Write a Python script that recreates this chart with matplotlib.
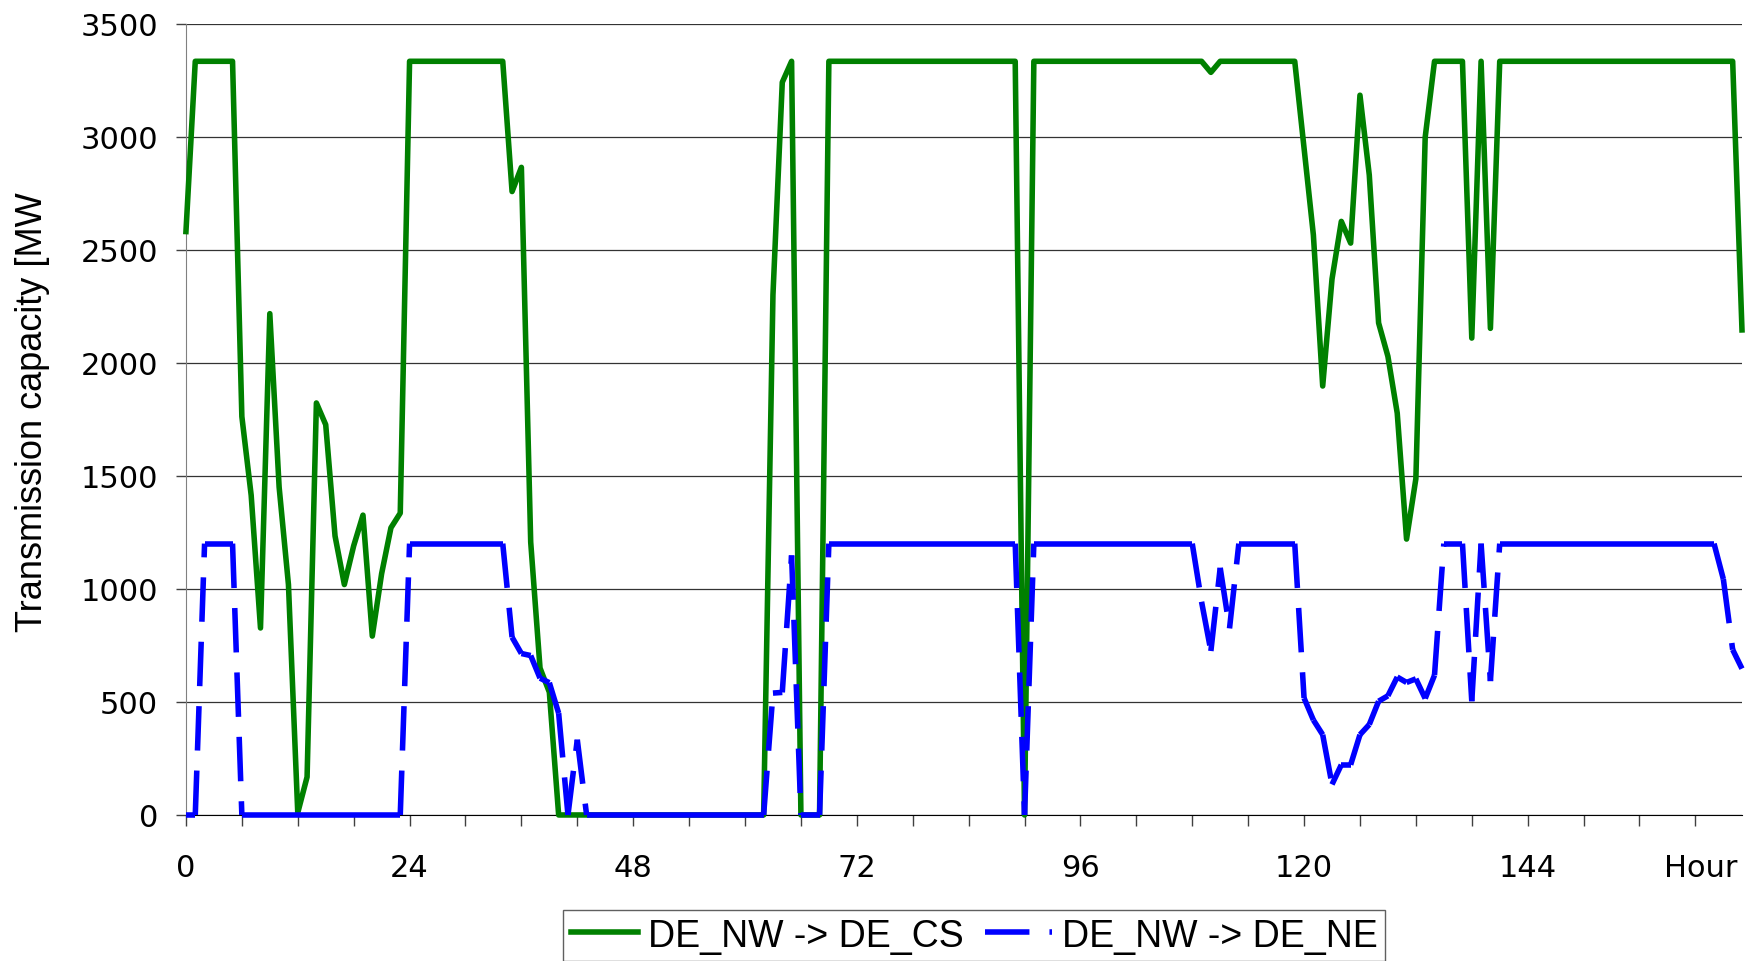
import matplotlib
matplotlib.use('Agg')
import matplotlib.pyplot as plt
from matplotlib.collections import LineCollection
from matplotlib.lines import Line2D

# hourly values, one row per day
hours = list(range(168))
de_cs = [
    2580, 3333, 3333, 3333, 3333, 3333, 1762, 1414, 827, 2217, 1450, 1019, 10, 168, 1822, 1726, 1234, 1019, 1190, 1326, 791, 1067, 1270, 1335,
    3333, 3333, 3333, 3333, 3333, 3333, 3333, 3333, 3333, 3333, 3333, 2757, 2864, 1207, 650, 543, 0, 0, 0, 0, 0, 0, 0, 0,
    0, 0, 0, 0, 0, 0, 0, 0, 0, 0, 0, 0, 0, 0, 0, 2300, 3240, 3333, 0, 0, 0, 3333, 3333, 3333,
    3333, 3333, 3333, 3333, 3333, 3333, 3333, 3333, 3333, 3333, 3333, 3333, 3333, 3333, 3333, 3333, 3333, 3333, 0, 3333, 3333, 3333, 3333, 3333,
    3333, 3333, 3333, 3333, 3333, 3333, 3333, 3333, 3333, 3333, 3333, 3333, 3333, 3333, 3284, 3333, 3333, 3333, 3333, 3333, 3333, 3333, 3333, 3333,
    2950, 2565, 1897, 2370, 2625, 2529, 3183, 2830, 2176, 2028, 1777, 1220, 1487, 2997, 3333, 3333, 3333, 3333, 2109, 3333, 2152, 3333, 3333, 3333,
    3333, 3333, 3333, 3333, 3333, 3333, 3333, 3333, 3333, 3333, 3333, 3333, 3333, 3333, 3333, 3333, 3333, 3333, 3333, 3333, 3333, 3333, 3333, 2145,
]
de_ne = [
    0, 0, 1200, 1200, 1200, 1200, 0, 0, 0, 0, 0, 0, 0, 0, 0, 0, 0, 0, 0, 0, 0, 0, 0, 0,
    1200, 1200, 1200, 1200, 1200, 1200, 1200, 1200, 1200, 1200, 1200, 786, 714, 705, 605, 585, 450, 0, 333, 0, 0, 0, 0, 0,
    0, 0, 0, 0, 0, 0, 0, 0, 0, 0, 0, 0, 0, 0, 0, 539, 542, 1148, 0, 0, 0, 1200, 1200, 1200,
    1200, 1200, 1200, 1200, 1200, 1200, 1200, 1200, 1200, 1200, 1200, 1200, 1200, 1200, 1200, 1200, 1200, 1200, 0, 1200, 1200, 1200, 1200, 1200,
    1200, 1200, 1200, 1200, 1200, 1200, 1200, 1200, 1200, 1200, 1200, 1200, 1200, 943, 725, 1093, 825, 1200, 1200, 1200, 1200, 1200, 1200, 1200,
    517, 420, 355, 135, 222, 222, 355, 400, 503, 527, 610, 586, 602, 515, 618, 1200, 1200, 1200, 503, 1200, 592, 1200, 1200, 1200,
    1200, 1200, 1200, 1200, 1200, 1200, 1200, 1200, 1200, 1200, 1200, 1200, 1200, 1200, 1200, 1200, 1200, 1200, 1200, 1200, 1200, 1043, 731, 647,
]
labels = ['DE_NW -> DE_CS', 'DE_NW -> DE_NE']

green = '#008000'
blue = '#0000FF'
lw = 4.0
dash = (0, (8, 3.6))

fig = plt.figure(figsize=(17.46, 9.62), dpi=100)
ax = fig.add_axes([0.1065, 0.1518, 0.8912, 0.8227])

ax.plot(hours, de_cs, color=green, lw=lw, solid_joinstyle='round', clip_on=False, zorder=3)

# excel restarts the dash pattern on every segment
segs = [[(hours[i], de_ne[i]), (hours[i + 1], de_ne[i + 1])] for i in range(len(hours) - 1)]
lc = LineCollection(segs, colors=blue, linewidths=lw, linestyles=dash, capstyle='butt', zorder=4, clip_on=False)
ax.add_collection(lc)

ax.set_xlim(0, 167)
ax.set_ylim(0, 3500)
ax.set_yticks(range(0, 3501, 500))
ax.set_xticks(range(0, 168, 24))
ax.set_xticks(range(0, 168, 6), minor=True)
ax.tick_params(axis='both', which='both', direction='out', labelsize=22, color='#404040', width=1)
ax.tick_params(axis='x', which='both', length=8, pad=19.5)
ax.tick_params(axis='y', length=7.2, pad=13)
ax.grid(axis='y', color='#333333', lw=0.9)
ax.set_axisbelow(True)
for s in ['top', 'right']:
    ax.spines[s].set_visible(False)
ax.spines['left'].set_color('#808080')
ax.spines['bottom'].set_color('black')

ax.annotate('Hour', xy=(166.5, 0), xycoords=('data', 'axes fraction'), xytext=(0, -27.5),
            textcoords='offset points', ha='right', va='top', fontsize=22, annotation_clip=False)

fig.text(33 / 1746, 1 - 412 / 962, 'Transmission capacity [MW', rotation=90, ha='center', va='center',
         fontsize=26, family='Liberation Sans')

handles = [Line2D([], [], color=green, lw=lw),
           Line2D([], [], color=blue, lw=lw, linestyle=dash, dash_capstyle='butt')]
leg = fig.legend(handles, labels, loc='upper center', bbox_to_anchor=(0.5581, 0.053), ncol=2,
                 frameon=True, fancybox=False, edgecolor='#606060', framealpha=1,
                 prop={'family': 'Liberation Sans', 'size': 27}, borderaxespad=0,
                 handlelength=1.79, handletextpad=0.27, columnspacing=0.56, borderpad=0.2)
leg.get_frame().set_linewidth(1.0)

fig.savefig('out.png', dpi=100, facecolor='white')
